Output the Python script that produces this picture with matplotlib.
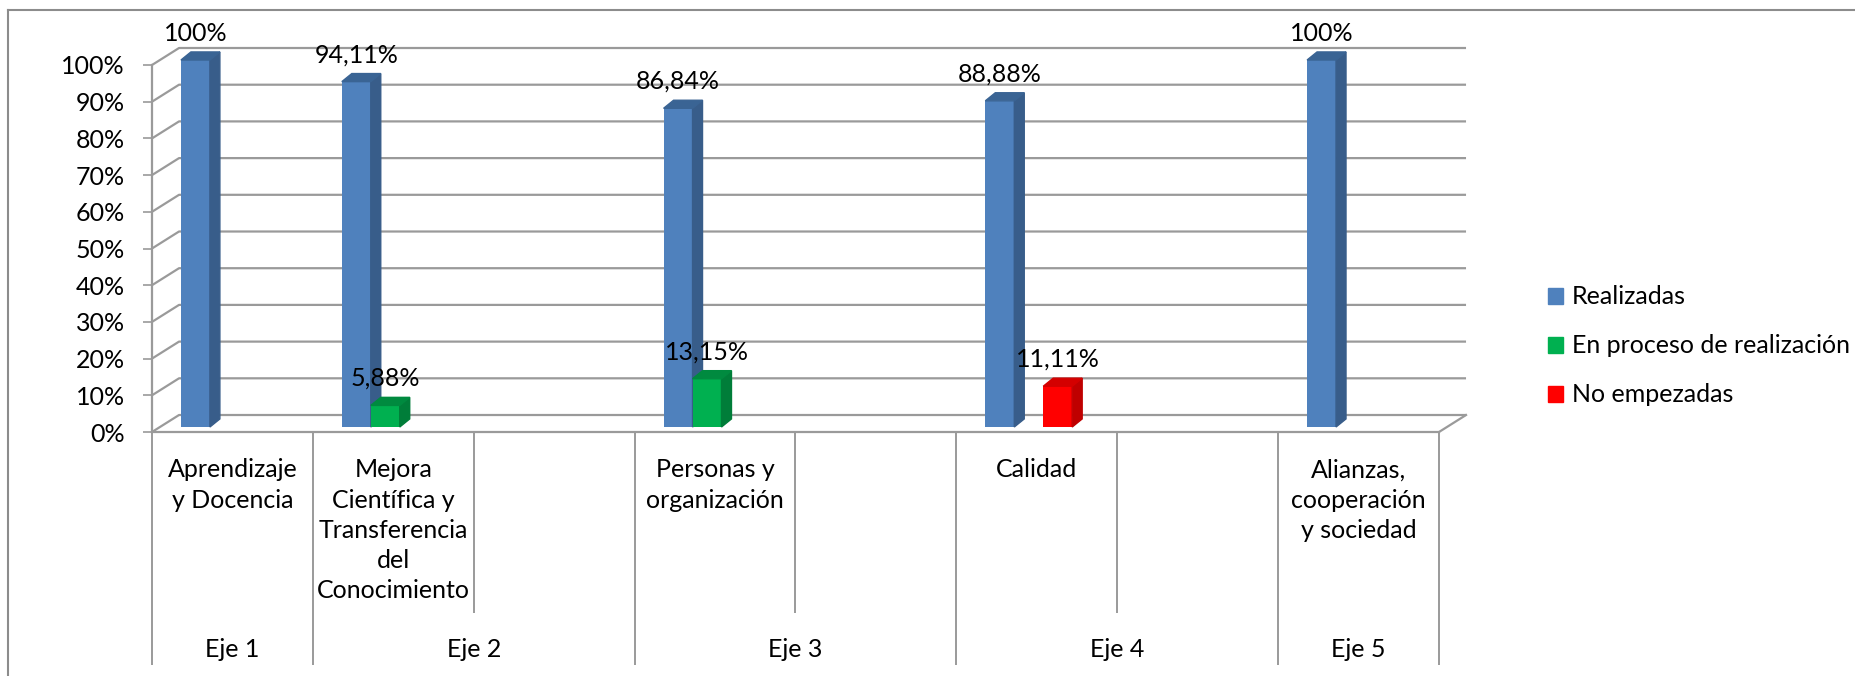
import numpy as np
import matplotlib.pyplot as plt
from matplotlib.patches import Patch
from matplotlib.lines import Line2D

plt.rcParams['font.family'] = ['Lato', 'DejaVu Sans']

# datos
categorias = ["Aprendizaje\ny Docencia",
              "Mejora\nCientífica y\nTransferencia\ndel\nConocimiento",
              "",
              "Personas y\norganización",
              "",
              "Calidad",
              "",
              "Alianzas,\ncooperación\ny sociedad"]
ejes = ["Eje 1", "Eje 2", "Eje 3", "Eje 4", "Eje 5"]
categorias_por_eje = [1, 2, 2, 2, 1]
series = ["Realizadas", "En proceso de realización", "No empezadas"]
realizadas = [100, 94.11, np.nan, 86.84, np.nan, 88.88, np.nan, 100]
en_proceso = [np.nan, 5.88, np.nan, 13.15, np.nan, np.nan, np.nan, np.nan]
no_empezadas = [np.nan, np.nan, np.nan, np.nan, np.nan, 11.11, np.nan, np.nan]
yticks = list(range(0, 101, 10))

# colores: frente, lado, tapa
colores = [("#4F81BD", "#385D8A", "#3A6494"),
           ("#00B050", "#007D39", "#008A3F"),
           ("#FF0000", "#BF0000", "#D40000")]
gris = "#9a9a9a"
fs = 18

W, H, DPI = 1856, 676, 100
fig = plt.figure(figsize=(W / DPI, H / DPI), dpi=DPI)
ax = fig.add_axes([152 / W, 1 - 432 / H, (1439 - 152) / W, (432 - 65) / H])

n = len(categorias)
ax.set_xlim(0, n)
ax.set_ylim(0, 100)

# profundidad del grafico 3D (en unidades de datos)
dx, dy = 0.168, 4.63
# barras
ancho, prof_x, prof_y, base = 0.18, 0.062, 2.2, 1.36

# pared del fondo y lateral
for t in yticks:
    ax.plot([0, dx, n + dx], [t, t + dy, t + dy], color=gris, lw=1.6,
            clip_on=False, zorder=1, solid_capstyle='butt')
ax.plot([n, n + dx], [0, dy], color=gris, lw=1.6, clip_on=False, zorder=1)

# eje y
ax.set_yticks(yticks)
ax.set_yticklabels([f"{t}%" for t in yticks], fontsize=fs)
ax.tick_params(axis='y', length=6.5, width=1.2, color=gris, pad=13)

# eje x: divisiones de categorias y de ejes
limites = np.cumsum([0] + categorias_por_eje)
internas = [i for i in range(1, n) if i not in limites]
ax.set_xticks(limites)
ax.set_xticks(internas, minor=True)
ax.set_xticklabels([])
ax.tick_params(axis='x', which='major', direction='out', length=168, width=1.4, color=gris)
ax.tick_params(axis='x', which='minor', direction='out', length=130, width=1.4, color=gris)

for s in ['top', 'right']:
    ax.spines[s].set_visible(False)
for s in ['left', 'bottom']:
    ax.spines[s].set_color(gris)
    ax.spines[s].set_linewidth(1.6)
ax.patch.set_visible(False)


def etiqueta(v):
    if v == int(v):
        return f"{int(v)}%"
    return f"{v:.2f}".replace(".", ",") + "%"


valores = [realizadas, en_proceso, no_empezadas]
for k, vals in enumerate(valores):
    frente, lado, tapa = colores[k]
    x0 = np.arange(n) + ancho * (k + 1)
    v = np.array(vals, dtype=float)
    ok = ~np.isnan(v)
    ax.bar(x0[ok], v[ok], width=ancho, bottom=base, align='edge', color=frente,
           zorder=3 + k, clip_on=False)
    for xi, vi in zip(x0[ok], v[ok]):
        xr = xi + ancho
        top = base + vi
        ax.fill([xr, xr + prof_x, xr + prof_x, xr],
                [base, base + prof_y, top + prof_y, top],
                color=lado, zorder=3 + k, clip_on=False)
        ax.fill([xi, xi + prof_x, xr + prof_x, xr],
                [top, top + prof_y, top + prof_y, top],
                color=tapa, zorder=3 + k, clip_on=False)
        ax.annotate(etiqueta(vi), xy=(xi + ancho / 2, top), xytext=(0, 14),
                    textcoords='offset points', ha='center', va='baseline',
                    fontsize=fs, zorder=10, annotation_clip=False)

# etiquetas de categoria
for i, c in enumerate(categorias):
    if c:
        ax.annotate(c, xy=(i + 0.5, 0), xycoords=('data', 'axes fraction'),
                    xytext=(0, -19), textcoords='offset points', ha='center',
                    va='top', fontsize=fs, linespacing=1.38, annotation_clip=False)

# etiquetas de eje
for j, e in enumerate(ejes):
    centro = (limites[j] + limites[j + 1]) / 2
    ax.annotate(e, xy=(centro, 0), xycoords=('data', 'axes fraction'),
                xytext=(0, -162), textcoords='offset points', ha='center',
                va='baseline', fontsize=fs, annotation_clip=False)

# leyenda
handles = [Patch(color=colores[k][0]) for k in range(len(series))]
fig.legend(handles, series, loc='center left', bbox_to_anchor=(1548 / W, 1 - 346 / H),
           frameon=False, fontsize=fs, handlelength=0.6, handleheight=0.6,
           handletextpad=0.35, labelspacing=1.04, borderpad=0, borderaxespad=0)

# marco del grafico
fig.add_artist(Line2D([8 / W, 1], [1 - 10 / H, 1 - 10 / H], color="#8c8c8c", lw=1.5))
fig.add_artist(Line2D([8 / W, 8 / W], [0, 1 - 10 / H], color="#8c8c8c", lw=1.5))

fig.savefig("out.png", dpi=DPI)
